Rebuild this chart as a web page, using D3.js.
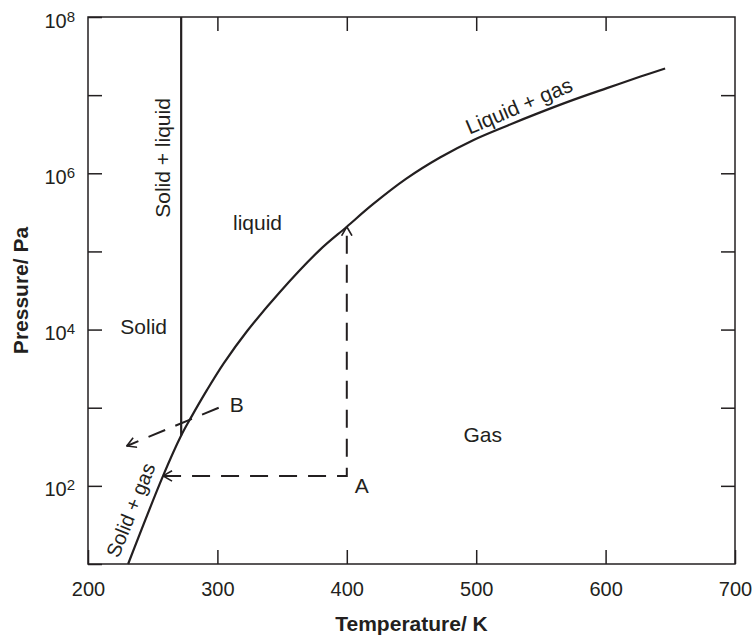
<!DOCTYPE html>
<meta charset="utf-8">
<title>Phase diagram</title>
<style>
body { margin: 0; background: #fff; }
svg { font-family: "Liberation Sans", Arial, sans-serif; }
.axis line { stroke: #231f20; stroke-width: 1.5px; }
.axis .domain { display: none; }
.axis text { fill: #231f20; font-size: 20px; font-family: "Liberation Sans", Arial, sans-serif; }
.frame { fill: none; stroke: #231f20; stroke-width: 1.5px; }
.boundary { fill: none; stroke: #231f20; stroke-width: 2.2px; }
.dashed { fill: none; stroke: #231f20; stroke-width: 2px; stroke-dasharray: 18,11; }
.label { fill: #231f20; font-size: 21px; }
.title { fill: #231f20; font-size: 21px; font-weight: bold; }
</style>
<body>
<svg width="755" height="637"></svg>
<script src="https://d3js.org/d3.v7.min.js"></script>
<script>
// solid/gas + liquid/gas boundary
var boundaryT = [231, 258, 272, 280, 292, 305, 323, 348, 379, 400, 420, 446, 472, 498, 524, 549, 575, 601, 627, 646];
var boundaryP = [10, 134, 440, 769, 1690, 3720, 9590, 29900, 104000, 207000, 399000, 853000,
                 1590000, 2670000, 4070000, 5970000, 8690000, 12300000, 17300000, 21900000];

// solid/liquid line (vertical)
var meltT = [272, 272];
var meltP = [440, 1e8];

// dashed path from A: left to the curve, then up to the curve
var pathAT = [258, 400, 400];
var pathAP = [134, 134, 207000];

// dashed arrow from B
var pathBT = [301, 230];
var pathBP = [1000, 324];

var xTicks = [200, 300, 400, 500, 600, 700];
var xInner = [300, 400, 500, 600];
var yTicks = [1e1, 1e2, 1e3, 1e4, 1e5, 1e6, 1e7, 1e8];
var yLabelled = [1e2, 1e4, 1e6, 1e8];

var svg = d3.select("svg"),
    margin = {top: 17, right: 20, bottom: 73, left: 88},
    width = +svg.attr("width") - margin.left - margin.right,
    height = +svg.attr("height") - margin.top - margin.bottom,
    g = svg.append("g").attr("transform", "translate(" + margin.left + "," + margin.top + ")");

var x = d3.scaleLinear().domain([200, 700]).range([0, width]),
    y = d3.scaleLog().domain([1e1, 1e8]).range([height, 0]);

// arrow head (open chevron)
svg.append("defs").append("marker")
    .attr("id", "arrow")
    .attr("viewBox", "0 0 10 12")
    .attr("refX", 9.5)
    .attr("refY", 6)
    .attr("markerWidth", 10)
    .attr("markerHeight", 12)
    .attr("markerUnits", "userSpaceOnUse")
    .attr("orient", "auto-start-reverse")
  .append("path")
    .attr("d", "M0.5,0.8L9.5,6L0.5,11.2")
    .attr("fill", "none")
    .attr("stroke", "#231f20")
    .attr("stroke-width", 1.6);

// axes, ticks point inward
g.append("g")
    .attr("class", "axis")
    .attr("transform", "translate(0," + height + ")")
    .call(d3.axisBottom(x).tickValues(xTicks).tickSize(-14).tickPadding(18));

g.append("g")
    .attr("class", "axis")
    .call(d3.axisTop(x).tickValues(xInner).tickSize(-14).tickFormat(""));

var yAxis = g.append("g")
    .attr("class", "axis")
    .call(d3.axisLeft(y).tickValues(yTicks).tickSize(-14).tickFormat(""));

g.append("g")
    .attr("class", "axis")
    .attr("transform", "translate(" + width + ",0)")
    .call(d3.axisRight(y).tickValues(yTicks.slice(1, 7)).tickSize(-14).tickFormat(""));

// 10^n labels
yAxis.selectAll(".tick")
    .filter(function(d) { return yLabelled.indexOf(d) >= 0; })
    .append("text")
    .attr("x", -13)
    .attr("y", 10)
    .attr("dy", 0)
    .attr("text-anchor", "end")
    .each(function(d) {
      var t = d3.select(this);
      t.append("tspan").text("10");
      t.append("tspan").attr("dy", -6).style("font-size", "15px").text(Math.round(Math.log10(d)));
    });

g.append("rect")
    .attr("class", "frame")
    .attr("width", width)
    .attr("height", height);

var line = d3.line()
    .x(function(d) { return x(d.t); })
    .y(function(d) { return y(d.p); });

var boundary = boundaryT.map(function(t, i) { return {t: t, p: boundaryP[i]}; });
g.append("path")
    .attr("class", "boundary")
    .attr("d", line.curve(d3.curveCatmullRom.alpha(0.5))(boundary));

line.curve(d3.curveLinear);

g.append("path")
    .attr("class", "boundary")
    .attr("stroke-width", 2)
    .attr("d", line(meltT.map(function(t, i) { return {t: t, p: meltP[i]}; })));

g.append("path")
    .attr("class", "dashed")
    .attr("marker-start", "url(#arrow)")
    .attr("marker-end", "url(#arrow)")
    .attr("d", line(pathAT.map(function(t, i) { return {t: t, p: pathAP[i]}; })));

g.append("path")
    .attr("class", "dashed")
    .attr("marker-end", "url(#arrow)")
    .attr("d", line(pathBT.map(function(t, i) { return {t: t, p: pathBP[i]}; })));

// region labels
var notes = [
  {t: 243, p: 8700, text: "Solid"},
  {t: 331, p: 187000, text: "liquid"},
  {t: 505, p: 364, text: "Gas"},
  {t: 411.5, p: 81, text: "A"},
  {t: 315, p: 889, text: "B"},
  {t: 258, p: 1570000, text: "Solid + liquid", rot: -90},
  {t: 533, p: 7300000, text: "Liquid + gas", rot: -23},
  {t: 233, p: 49, text: "Solid + gas", rot: -68, size: 20}
];

g.selectAll(".label")
    .data(notes)
    .enter().append("text")
    .attr("class", "label")
    .attr("text-anchor", "middle")
    .style("font-size", function(d) { return d.size ? d.size + "px" : null; })
    .attr("dy", function(d) { return d.rot ? "0.35em" : 0; })
    .attr("transform", function(d) {
      return "translate(" + x(d.t) + "," + y(d.p) + ")" + (d.rot ? " rotate(" + d.rot + ")" : "");
    })
    .text(function(d) { return d.text; });

// axis titles
svg.append("text")
    .attr("class", "title")
    .attr("text-anchor", "middle")
    .attr("x", margin.left + width / 2)
    .attr("y", 631)
    .text("Temperature/ K");

svg.append("text")
    .attr("class", "title")
    .attr("text-anchor", "middle")
    .attr("transform", "translate(28," + (margin.top + height / 2) + ") rotate(-90)")
    .text("Pressure/ Pa");
</script>
</body>
